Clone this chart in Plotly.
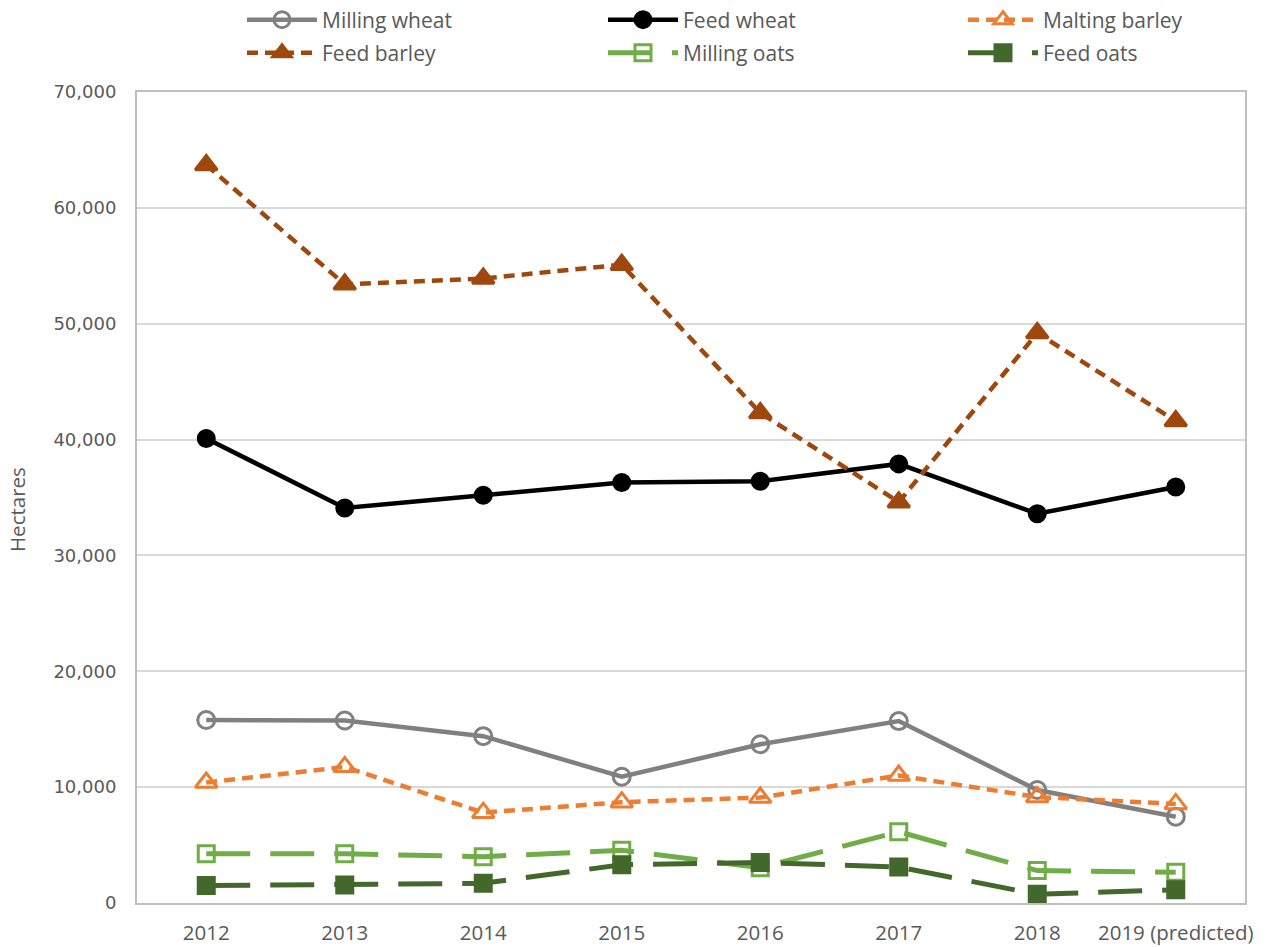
import plotly.graph_objects as go

years = ["2012", "2013", "2014", "2015", "2016", "2017", "2018", "2019 (predicted)"]

milling_wheat = [15800, 15750, 14400, 10900, 13700, 15700, 9750, 7450]
feed_wheat = [40100, 34100, 35200, 36300, 36400, 37900, 33600, 35900]
malting_barley = [10400, 11750, 7800, 8700, 9100, 11000, 9150, 8550]
feed_barley = [63700, 53400, 53900, 55100, 42300, 34600, 49200, 41600]
milling_oats = [4250, 4250, 4000, 4550, 3050, 6150, 2800, 2650]
feed_oats = [1500, 1550, 1700, 3300, 3500, 3100, 750, 1150]

# name, values, colour, dash, marker symbol, marker size, line width
series = [
    ("Milling wheat", milling_wheat, "#808080", "solid", "circle-open", 17, 4.5),
    ("Feed wheat", feed_wheat, "#000000", "solid", "circle", 16, 4.5),
    ("Malting barley", malting_barley, "#ED7D31", "11px,7px", "triangle-up-open", 19, 4.5),
    ("Feed barley", feed_barley, "#9E480E", "11px,7px", "triangle-up", 19, 4.5),
    ("Milling oats", milling_oats, "#70AD47", "44px,20px", "square-open", 16, 5),
    ("Feed oats", feed_oats, "#43682B", "44px,20px", "square", 16, 5),
]

W, H = 1271, 947
M_L, M_R, M_T, M_B = 137, 26, 92, 44
plot_w = W - M_L - M_R
plot_h = H - M_T - M_B

# legend grid: three columns, two rows above the plot (pixel positions)
legend_cols_px = [242, 603, 963]
legend_rows_px = [20, 53]

grey = "#595959"
tick_font = dict(family="DejaVu Sans", size=18, color=grey)
text_font = dict(family="Open Sans, sans-serif", size=20.5, color=grey)
legend_font = dict(family="Open Sans, sans-serif", size=21, color=grey)

fig = go.Figure()
legends = {}
for i, (name, vals, color, dash, symbol, msize, lw) in enumerate(series):
    key = "legend" if i == 0 else f"legend{i + 1}"
    fig.add_trace(go.Scatter(
        x=years, y=vals, name=name, mode="lines+markers", legend=key,
        line=dict(color=color, width=lw, dash=dash),
        marker=dict(symbol=symbol, size=msize, color=color,
                    line=dict(color=color, width=3)),
    ))
    col_px = legend_cols_px[i % 3]
    row_px = legend_rows_px[i // 3]
    legends[key] = dict(
        orientation="h", xanchor="left", yanchor="middle",
        xref="container", yref="container",
        x=col_px / W, y=1 - row_px / H,
        itemwidth=70, font=legend_font, bgcolor="rgba(0,0,0,0)",
    )

fig.update_layout(
    width=W, height=H,
    margin=dict(l=M_L, r=M_R, t=M_T, b=M_B, autoexpand=False),
    paper_bgcolor="white", plot_bgcolor="white",
    showlegend=True,
    xaxis=dict(
        type="category", range=[-0.5, 7.5], tickfont=text_font, automargin=False,
        showline=True, linecolor="#BFBFBF", linewidth=2, mirror=True,
        showgrid=False, ticks="", ticklabelstandoff=10,
    ),
    yaxis=dict(
        range=[0, 70000], dtick=10000, tickformat=",d", tickfont=tick_font,
        automargin=False,
        showline=True, linecolor="#BFBFBF", linewidth=2, mirror=True,
        showgrid=True, gridcolor="#D9D9D9", gridwidth=1.5, zeroline=False,
        ticks="", ticklabelstandoff=15,
    ),
    annotations=[dict(
        text="Hectares", textangle=-90, font=text_font, showarrow=False,
        xref="paper", yref="paper", xanchor="center", yanchor="middle",
        x=(17 - M_L) / plot_w, y=(H - M_B - 510) / plot_h,
    )],
    **legends,
)

fig.write_html("out.html")
